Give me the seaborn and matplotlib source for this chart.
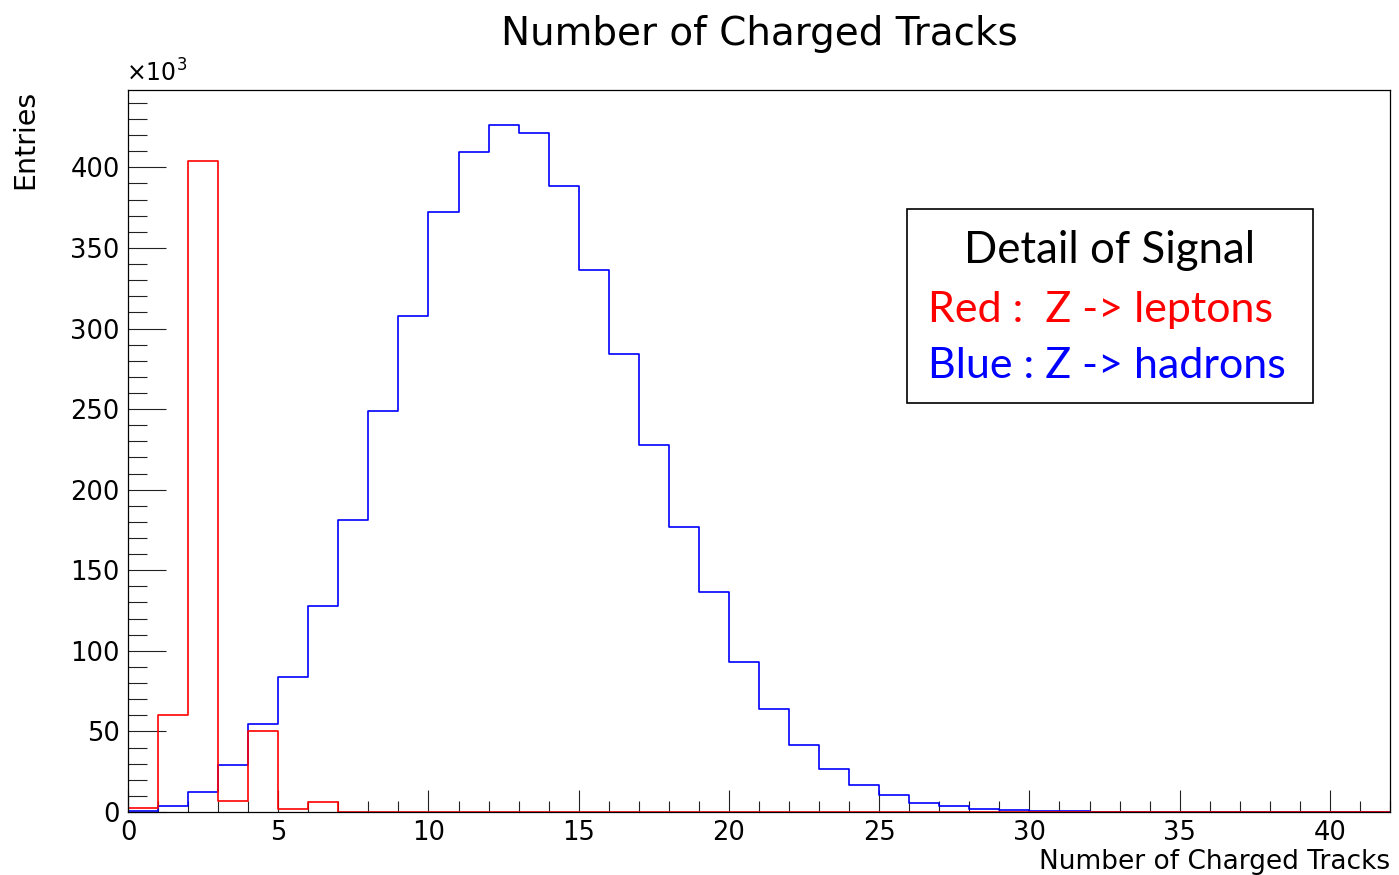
import numpy as np
import pandas as pd
import seaborn as sns
import matplotlib
matplotlib.use("Agg")
import matplotlib.pyplot as plt
from matplotlib.ticker import MultipleLocator, FixedLocator
from matplotlib.patches import Rectangle

# ---- data (entries in units of 10^3, one bin per track count 0..41) ----
bin_edges = list(range(0, 43))
hadrons_k = [0.6, 3.7, 12.2, 29.0, 54.6, 83.7, 127.8, 181.0, 248.7, 308.0,
             372.0, 409.5, 426.0, 421.5, 388.4, 336.5, 284.0, 228.0, 177.0, 136.4,
             93.0, 64.0, 41.5, 26.9, 16.7, 10.7, 5.4, 3.9, 2.1, 1.2,
             0.6, 0.4, 0.3, 0, 0, 0, 0, 0, 0, 0, 0, 0]
leptons_k = [2.3, 60.0, 403.7, 7.0, 50.4, 1.7, 6.0, 0, 0, 0,
             0, 0, 0, 0, 0, 0, 0, 0, 0, 0,
             0, 0, 0, 0, 0, 0, 0, 0, 0, 0,
             0, 0, 0, 0, 0, 0, 0, 0, 0, 0, 0, 0]
x_ticks = [0, 5, 10, 15, 20, 25, 30, 35, 40]
y_ticks = [0, 50, 100, 150, 200, 250, 300, 350, 400]

title = "Number of Charged Tracks"
x_label = "Number of Charged Tracks"
y_label = "Entries"
legend_title = "Detail of Signal"
legend_red = "Red :  Z -> leptons"
legend_blue = "Blue : Z -> hadrons"

centers = [e + 0.5 for e in bin_edges[:-1]]
df = pd.DataFrame({"tracks": centers, "hadrons": hadrons_k, "leptons": leptons_k})

sns.set_theme(style="white")
plt.rcParams["font.family"] = ["DejaVu Sans"]
plt.rcParams["mathtext.default"] = "regular"
plt.rcParams["text.color"] = "black"
plt.rcParams["axes.labelcolor"] = "black"
plt.rcParams["xtick.color"] = "black"
plt.rcParams["ytick.color"] = "black"

W, H = 1399, 875
fig = plt.figure(figsize=(W / 100, H / 100), dpi=100)
ax = fig.add_axes([128 / W, 1 - 812 / H, (1390 - 128) / W, (812 - 90) / H])

sns.histplot(data=df, x="tracks", weights="hadrons", bins=bin_edges, element="step",
             fill=False, color=(0, 0, 1), linewidth=1.2, ax=ax)
sns.histplot(data=df, x="tracks", weights="leptons", bins=bin_edges, element="step",
             fill=False, color=(1, 0, 0), linewidth=1.2, ax=ax)

ax.set_xlim(0, 42)
ax.set_ylim(0, 448)

for s in ax.spines.values():
    s.set_color("black")
    s.set_linewidth(0.9)

ax.xaxis.set_major_locator(FixedLocator(x_ticks))
ax.xaxis.set_minor_locator(MultipleLocator(1))
ax.yaxis.set_major_locator(FixedLocator(y_ticks))
ax.yaxis.set_minor_locator(MultipleLocator(10))
ax.tick_params(axis="x", which="major", direction="in", length=15.6, width=0.8,
               color="#222222", labelcolor="black", labelsize=18.5, pad=6,
               bottom=True, top=False)
ax.tick_params(axis="x", which="minor", direction="in", length=7.8, width=0.8,
               color="#222222", bottom=True, top=False)
ax.tick_params(axis="y", which="major", direction="in", length=27.3, width=0.8,
               color="#222222", labelcolor="black", labelsize=18.5, pad=6,
               left=True, right=False)
ax.tick_params(axis="y", which="minor", direction="in", length=13.6, width=0.8,
               color="#222222", left=True, right=False)

ax.set_xlabel(x_label, fontsize=19, loc="right", labelpad=2, color="black")
ax.set_ylabel(y_label, fontsize=20.5, loc="top", labelpad=22, color="black")

fig.text(0.5 + 60 / W, 1 - 45 / H, title, ha="center", va="baseline",
         fontsize=28, color="black")
fig.text(126 / W, 1 - 87 / H, r"$\times10^{3}$", ha="left", va="bottom",
         fontsize=17, color="black")

# legend box
fig.patches.append(Rectangle((907 / W, 1 - 403 / H), 406 / W, 194 / H,
                             transform=fig.transFigure, fill=False,
                             edgecolor="black", linewidth=1.2))
lfont = ["Lato", "DejaVu Sans"]
fig.text(1110 / W, 1 - 263 / H, legend_title, ha="center", va="baseline",
         fontsize=31.5, color="black", family=lfont)
fig.text(928 / W, 1 - 322 / H, legend_red, ha="left", va="baseline",
         fontsize=31, color=(1, 0, 0), family=lfont)
fig.text(928 / W, 1 - 378 / H, legend_blue, ha="left", va="baseline",
         fontsize=31, color=(0, 0, 1), family=lfont)

fig.savefig("out.png", dpi=100, facecolor="white")
